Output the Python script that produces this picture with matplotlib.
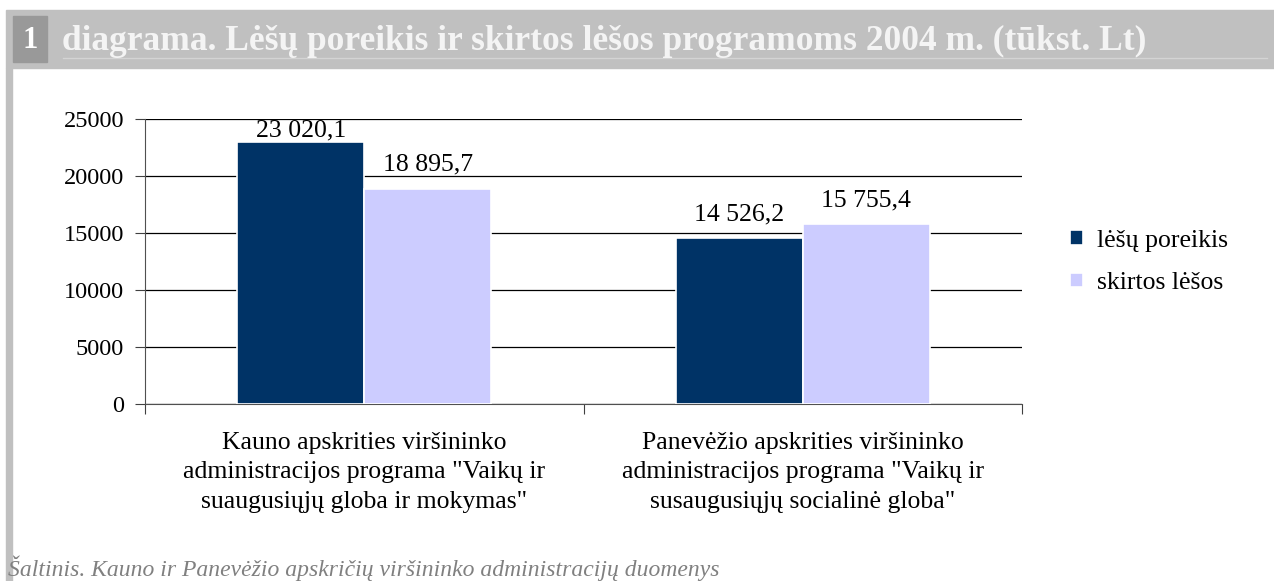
import numpy as np
import matplotlib
matplotlib.use("Agg")
import matplotlib.pyplot as plt
from matplotlib.patches import Rectangle
from matplotlib.lines import Line2D

# Duomenys
kategorijos = [
    'Kauno apskrities viršininko\nadministracijos programa "Vaikų ir\nsuaugusiųjų globa ir mokymas"',
    'Panevėžio apskrities viršininko\nadministracijos programa "Vaikų ir\nsusaugusiųjų socialinė globa"',
]
poreikis = [23020.1, 14526.2]
skirtos = [18895.7, 15755.4]
serijos = ["lėšų poreikis", "skirtos lėšos"]
y_ticks = [0, 5000, 10000, 15000, 20000, 25000]

spalva_tamsi = "#003366"
spalva_sviesi = "#ccccff"

# etikečių atitraukimas nuo stulpelio viršaus (taškais)
atitraukimas_poreikis = [4, 13]
atitraukimas_skirtos = [13, 13]

plt.rcParams["font.family"] = ["Liberation Serif", "DejaVu Serif"]

W, H = 1274, 581
fig = plt.figure(figsize=(W / 100, H / 100), dpi=100)


def fx(px):
    return px / W


def fy(py):
    return 1 - py / H


# Antraštės juosta ir rėmas
fig.patches.append(Rectangle((fx(6), fy(68)), fx(W - 6), 58 / H,
                             transform=fig.transFigure, color="#c0c0c0", zorder=0))
fig.patches.append(Rectangle((fx(6), 0), fx(6), fy(68),
                             transform=fig.transFigure, color="#c0c0c0", zorder=0))
fig.patches.append(Rectangle((fx(13), fy(62)), fx(34), 46 / H,
                             transform=fig.transFigure, color="#999999", zorder=1))
fig.lines.append(Line2D([fx(63), fx(1267)], [fy(58), fy(58)],
                        transform=fig.transFigure, color="#d4d4d4", lw=1))
fig.text(fx(30), fy(41), "1", color="white", fontsize=22, fontweight="bold",
         ha="center", va="center")
fig.text(fx(62), fy(41), "diagrama. Lėšų poreikis ir skirtos lėšos programoms 2004 m. (tūkst. Lt)",
         color="#f4f4f4", fontsize=25.5, fontweight="bold", ha="left", va="center")

# Diagrama
ax = fig.add_axes([fx(145), fy(404), fx(1022 - 145), (404 - 119) / H])
x = np.arange(len(kategorijos))
w = 0.29
b1 = ax.bar(x - w / 2, poreikis, w, color=spalva_tamsi, edgecolor="white", lw=1.2,
            label=serijos[0], zorder=3)
b2 = ax.bar(x + w / 2, skirtos, w, color=spalva_sviesi, edgecolor="white", lw=1.2,
            label=serijos[1], zorder=3)


def fmt(v):
    return f"{v:,.1f}".replace(",", " ").replace(".", ",")


for rects, vals, pads in [(b1, poreikis, atitraukimas_poreikis), (b2, skirtos, atitraukimas_skirtos)]:
    for r, v, p in zip(rects, vals, pads):
        ax.annotate(fmt(v), (r.get_x() + r.get_width() / 2, v), xytext=(0, p),
                    textcoords="offset points", ha="center", va="baseline", fontsize=18.5)

ax.set_xlim(-0.5, 1.5)
ax.set_ylim(0, 25000)
ax.set_yticks(y_ticks)
ax.set_yticklabels([str(t) for t in y_ticks], fontsize=17.5)
ax.yaxis.grid(True, color="black", lw=0.9, zorder=0)
ax.set_axisbelow(True)

ax.set_xticks([-0.5, 0.5, 1.5])
ax.set_xticklabels(["", "", ""])
ax.set_xticks(x, minor=True)
ax.set_xticklabels(kategorijos, minor=True, fontsize=18.5, linespacing=1.45)
ax.tick_params(axis="x", which="minor", length=0, pad=20)
ax.tick_params(axis="x", which="major", length=7, direction="out", color="#404040")
ax.tick_params(axis="y", length=7, direction="out", color="#404040", pad=8)

for s in ["top", "right"]:
    ax.spines[s].set_visible(False)
ax.spines["left"].set_color("#505050")
ax.spines["bottom"].set_color("#505050")

fig.legend(handles=[b1, b2], labels=serijos, loc="center left",
           bbox_to_anchor=(fx(1047), fy(262)), frameon=False, fontsize=18.5,
           handlelength=0.5, handleheight=0.5, handletextpad=0.55, labelspacing=0.8)

# Šaltinis
fig.text(fx(8), fy(568), "Šaltinis. Kauno ir Panevėžio apskričių viršininko administracijų duomenys",
         color="#808080", fontsize=17, fontstyle="italic", ha="left", va="center")

fig.savefig("out.png", dpi=100)
